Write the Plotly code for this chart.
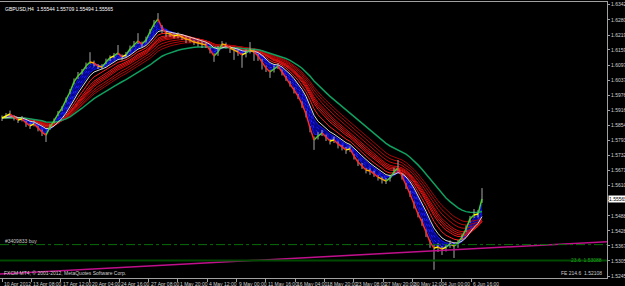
import numpy as np
import plotly.graph_objects as go

# ---------------- data ----------------
title_text = "GBPUSD,H4  1.55544 1.55709 1.55494 1.55565"
copyright_text = "FXCM MT4, \u00a9 2001-2012, MetaQuotes Software Corp."

close = [
    1.5884, 1.5892, 1.5900, 1.5888, 1.5876, 1.5880, 1.5864, 1.5852, 1.5860, 1.5844,
    1.5827, 1.5815, 1.5848, 1.5872, 1.5900, 1.5924, 1.5957, 1.5989, 1.6030, 1.6054,
    1.6070, 1.6094, 1.6110, 1.6106, 1.6094, 1.6090, 1.6110, 1.6127, 1.6135, 1.6147,
    1.6131, 1.6139, 1.6163, 1.6179, 1.6195, 1.6183, 1.6199, 1.6232, 1.6264, 1.6284,
    1.6248, 1.6228, 1.6224, 1.6216, 1.6220, 1.6211, 1.6203, 1.6199, 1.6191, 1.6187,
    1.6183, 1.6179, 1.6159, 1.6135, 1.6151, 1.6183, 1.6179, 1.6167, 1.6159, 1.6151,
    1.6139, 1.6147, 1.6159, 1.6151, 1.6135, 1.6110, 1.6086, 1.6070, 1.6082, 1.6094,
    1.6070, 1.6046, 1.6021, 1.5997, 1.5973, 1.5941, 1.5900, 1.5844, 1.5795, 1.5811,
    1.5823, 1.5807, 1.5791, 1.5795, 1.5779, 1.5767, 1.5755, 1.5759, 1.5730, 1.5706,
    1.5690, 1.5674, 1.5670, 1.5658, 1.5645, 1.5637, 1.5629, 1.5641, 1.5666, 1.5682,
    1.5649, 1.5613, 1.5577, 1.5536, 1.5496, 1.5464, 1.5423, 1.5383, 1.5358, 1.5362,
    1.5354, 1.5362, 1.5375, 1.5366, 1.5379, 1.5403, 1.5435, 1.5476, 1.5492, 1.5496,
    1.55565,
]

wick_up_pips = [
    10, 12, 14, 8, 10, 12, 8, 10, 14, 8,
    10, 8, 12, 10, 12, 8, 10, 12, 14, 16,
    12, 14, 40, 10, 8, 12, 14, 10, 12, 32,
    10, 12, 14, 16, 32, 10, 14, 12, 16, 24,
    12, 10, 8, 12, 10, 8, 12, 10, 8, 10,
    12, 10, 8, 10, 24, 12, 10, 8, 12, 10,
    8, 14, 32, 10, 8, 12, 10, 8, 14, 12,
    10, 8, 12, 10, 8, 10, 12, 8, 14, 16,
    12, 10, 8, 14, 10, 8, 12, 10, 8, 10,
    12, 8, 10, 12, 8, 10, 12, 14, 16, 32,
    10, 8, 12, 10, 8, 12, 10, 8, 14, 16,
    12, 10, 14, 16, 12, 10, 14, 12, 24, 16,
    44,
]

wick_dn_pips = [
    12, 10, 8, 14, 12, 10, 16, 12, 10, 14,
    16, 28, 12, 10, 8, 12, 10, 8, 10, 12,
    10, 12, 8, 14, 12, 10, 8, 12, 10, 8,
    14, 12, 10, 8, 12, 14, 10, 8, 12, 10,
    20, 16, 12, 10, 14, 12, 16, 10, 12, 14,
    16, 12, 14, 24, 16, 10, 14, 20, 40, 16,
    52, 18, 14, 36, 20, 30, 16, 24, 14, 12,
    14, 12, 10, 14, 12, 16, 14, 18, 40, 14,
    12, 16, 14, 12, 18, 14, 16, 12, 14, 16,
    12, 14, 16, 12, 14, 18, 12, 14, 10, 12,
    14, 16, 12, 18, 14, 16, 20, 24, 88, 20,
    24, 18, 16, 48, 20, 14, 12, 16, 12, 14,
    16,
]

time_labels = ["10 Apr 2012", "13 Apr 08:00", "17 Apr 12:00", "20 Apr 04:00",
               "24 Apr 16:00", "27 Apr 08:00", "1 May 20:00", "4 May 12:00",
               "9 May 00:00", "11 May 16:00", "16 May 04:00", "18 May 20:00",
               "23 May 08:00", "27 May 20:00", "30 May 12:00", "4 Jun 00:00",
               "6 Jun 16:00"]
label_step_bars = 7.33

price_ticks = [1.63420, 1.62805, 1.62190, 1.61590, 1.60975, 1.60375, 1.59760,
               1.59160, 1.58545, 1.57930, 1.57320, 1.56715, 1.56105, 1.55495,
               1.54880, 1.54280, 1.53670, 1.53059, 1.52450]

last_price = 1.55565
buy_level = 1.5372
buy_label = "#3409833 buy"
fib_level = 1.53078
fib_label = "23.6  1.53088"
fe_label = "FE 214.6  1.52108"
trend_bars = [0, 120]
trend_prices = [1.5254, 1.5357]

blue_periods = [2, 3, 4, 5]
white_period = 6
red_periods = [8, 10, 11, 12, 13, 15, 17, 19]
green_period = 25

# ---------------- derived ----------------
close = np.array(close)
n = len(close)
xs = np.arange(n)
high = close + np.array(wick_up_pips) * 0.0001
low = close - np.array(wick_dn_pips) * 0.0001


def ema(vals, p):
    a = 2.0 / (p + 1)
    out = []
    e = vals[0]
    for v in vals:
        e = e + a * (v - e)
        out.append(e)
    return np.array(out)


X_MIN, X_MAX = -0.5, 151.25
Y_MIN, Y_MAX = 1.52370, 1.63530

fig = go.Figure()

# blue short-term band
blue_fast = ema(close, blue_periods[0])
blue_slow = ema(close, blue_periods[-1])
fig.add_trace(go.Scatter(x=xs, y=blue_fast, mode="lines",
                         line=dict(color="#1414ff", width=1), hoverinfo="skip"))
fig.add_trace(go.Scatter(x=xs, y=blue_slow, mode="lines", fill="tonexty",
                         fillcolor="rgba(10,10,230,0.6)",
                         line=dict(color="#1414ff", width=1), hoverinfo="skip"))
for p in blue_periods[1:-1]:
    fig.add_trace(go.Scatter(x=xs, y=ema(close, p), mode="lines",
                             line=dict(color="#2020ff", width=1, dash="dot"),
                             hoverinfo="skip"))

# red long-term ribbon
red_colors = ["#ff2020", "#f01818", "#e01414", "#d41010", "#c80c0c", "#bc0a0a", "#b00808", "#a40606"]
for p, c in zip(red_periods, red_colors):
    fig.add_trace(go.Scatter(x=xs, y=ema(close, p), mode="lines",
                             line=dict(color=c, width=1), hoverinfo="skip"))

# green slow line
fig.add_trace(go.Scatter(x=xs, y=ema(close, green_period), mode="lines",
                         line=dict(color="#10a060", width=1.5), hoverinfo="skip"))

# white line
fig.add_trace(go.Scatter(x=xs, y=ema(close, white_period), mode="lines",
                         line=dict(color="#d8d8d8", width=1), hoverinfo="skip"))

# gray high-low bars
bx, by = [], []
for i in range(n):
    bx += [xs[i], xs[i], None]
    by += [low[i], high[i], None]
fig.add_trace(go.Scatter(x=bx, y=by, mode="lines",
                         line=dict(color="#a8a8a8", width=1), hoverinfo="skip"))

# coloured close line
seg = {"#4ccd32": ([], []), "#ffff00": ([], []), "#ffa500": ([], []), "#ff2a2a": ([], [])}
for i in range(n - 1):
    d = close[i + 1] - close[i]
    if d > 0.001:
        c = "#4ccd32"
    elif d > 0:
        c = "#ffff00"
    elif d >= -0.001:
        c = "#ffa500"
    else:
        c = "#ff2a2a"
    seg[c][0].extend([xs[i], xs[i + 1], None])
    seg[c][1].extend([close[i], close[i + 1], None])
for c, (sx, sy) in seg.items():
    fig.add_trace(go.Scatter(x=sx, y=sy, mode="lines",
                             line=dict(color=c, width=1.5), hoverinfo="skip"))

# magenta trendline (ray to the right edge)
slope = (trend_prices[1] - trend_prices[0]) / (trend_bars[1] - trend_bars[0])
ty0 = trend_prices[0] + slope * (X_MIN - trend_bars[0])
ty1 = trend_prices[0] + slope * (X_MAX - trend_bars[0])
fig.add_shape(type="line", xref="x", yref="y", x0=X_MIN, x1=X_MAX, y0=ty0, y1=ty1,
              line=dict(color="#c0108c", width=1.5))

# horizontal levels
fig.add_shape(type="line", xref="paper", yref="y", x0=0, x1=1, y0=buy_level, y1=buy_level,
              line=dict(color="#0a6e0a", width=1, dash="dashdot"))
fig.add_shape(type="line", xref="paper", yref="y", x0=0, x1=1, y0=fib_level, y1=fib_level,
              line=dict(color="#004a00", width=2))

font_fam = "Liberation Sans"
FS = 5
ann = []
ann.append(dict(text=title_text, xref="paper", yref="paper", x=0, y=1, xanchor="left",
                yanchor="top", xshift=3, yshift=-2, showarrow=False,
                font=dict(color="#ffffff", size=FS, family=font_fam)))
ann.append(dict(text=copyright_text, xref="paper", yref="paper", x=0, y=0, xanchor="left",
                yanchor="bottom", xshift=2, yshift=0, showarrow=False,
                font=dict(color="#d0d0d0", size=FS, family=font_fam)))
ann.append(dict(text=buy_label, xref="paper", yref="y", x=0, y=buy_level, xanchor="left",
                yanchor="bottom", xshift=3, yshift=-1, showarrow=False,
                font=dict(color="#c8c8c8", size=FS, family=font_fam)))
ann.append(dict(text=fib_label, xref="paper", yref="y", x=1, y=fib_level, xanchor="right",
                yanchor="middle", xshift=-3, showarrow=False,
                font=dict(color="#20a020", size=FS, family=font_fam)))
ann.append(dict(text=fe_label, xref="paper", yref="paper", x=1, y=0, xanchor="right",
                yanchor="bottom", xshift=-3, yshift=0, showarrow=False,
                font=dict(color="#c8c8c8", size=FS, family=font_fam)))
ann.append(dict(text="%.5f" % last_price, xref="paper", yref="y", x=1, y=last_price,
                xanchor="left", yanchor="middle", xshift=1, showarrow=False,
                bgcolor="#ffffff", borderpad=0,
                font=dict(color="#000000", size=FS, family=font_fam)))
tick_x = [k * label_step_bars for k in range(len(time_labels))]
for tx, lab in zip(tick_x, time_labels):
    ann.append(dict(text=lab, xref="x", yref="paper", x=tx, y=0, xanchor="left",
                    yanchor="top", xshift=0, yshift=-1, showarrow=False,
                    font=dict(color="#d0d0d0", size=FS, family=font_fam)))

fig.update_layout(
    width=625, height=286,
    margin=dict(l=0, r=18, t=2, b=8),
    paper_bgcolor="#000000", plot_bgcolor="#000000",
    showlegend=False,
    annotations=ann,
    xaxis=dict(range=[X_MIN, X_MAX], showgrid=False, zeroline=False,
               tickmode="array", tickvals=tick_x, showticklabels=False,
               ticks="outside", ticklen=3, tickcolor="#a0a0a0",
               showline=True, linecolor="#a0a0a0", linewidth=1, mirror=True,
               automargin=False, fixedrange=True),
    yaxis=dict(range=[Y_MIN, Y_MAX], side="right", showgrid=False, zeroline=False,
               tickmode="array", tickvals=price_ticks,
               ticktext=["%.5f" % v for v in price_ticks],
               ticks="outside", ticklen=2, tickcolor="#a0a0a0",
               ticklabelstandoff=0,
               tickfont=dict(color="#d0d0d0", size=FS, family=font_fam),
               showline=True, linecolor="#a0a0a0", linewidth=1, mirror=True,
               automargin=False, fixedrange=True),
)

fig.write_html("out.html")
